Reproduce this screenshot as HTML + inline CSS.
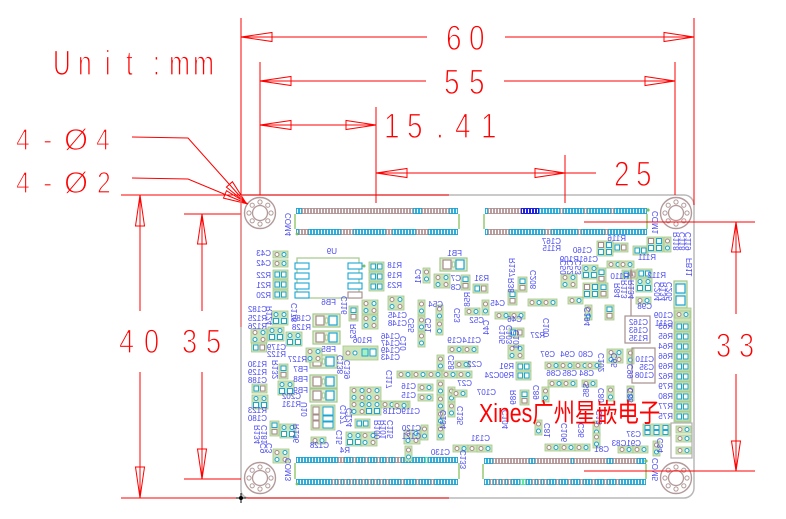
<!DOCTYPE html>
<html><head><meta charset="utf-8"><style>
html,body{margin:0;padding:0;background:#fff;}
svg{display:block;}
</style></head><body>
<svg width="786" height="519" viewBox="0 0 786 519" xmlns="http://www.w3.org/2000/svg" xmlns:xlink="http://www.w3.org/1999/xlink">
<defs>
<g id="r"><rect width="15" height="9" fill="#cfe3b8" stroke="#a3c88a" stroke-width=".8"/><rect x="2" y="2" width="4.5" height="5" fill="#fff" stroke="#1aa5d5"/><rect x="8.5" y="2" width="4.5" height="5" fill="#fff" stroke="#1aa5d5"/></g>
<g id="rb"><rect width="15" height="9" fill="#cfe3b8" stroke="#a3c88a" stroke-width=".8"/><rect x="2" y="2" width="4.5" height="5" fill="#fff" stroke="#1aa5d5"/><rect x="8.5" y="2" width="4.5" height="5" fill="#fff" stroke="#a58a8a"/></g>
<g id="rv"><rect width="9" height="15" fill="#cfe3b8" stroke="#a3c88a" stroke-width=".8"/><rect x="2" y="2" width="5" height="4.5" fill="#fff" stroke="#1aa5d5"/><rect x="2" y="8.5" width="5" height="4.5" fill="#fff" stroke="#a58a8a"/></g>
<g id="c"><rect width="15" height="7" fill="#cfe3b8" stroke="#a3c88a" stroke-width=".8"/><circle cx="4" cy="3.5" r="2" fill="#fff" stroke="#a58a8a"/><circle cx="11" cy="3.5" r="2" fill="#fff" stroke="#1aa5d5"/></g>
<g id="cv"><rect width="7" height="15" fill="#cfe3b8" stroke="#a3c88a" stroke-width=".8"/><circle cx="3.5" cy="4" r="2" fill="#fff" stroke="#a58a8a"/><circle cx="3.5" cy="11" r="2" fill="#fff" stroke="#1aa5d5"/></g>
<g id="qc"><rect width="16" height="14" fill="#cfe3b8" stroke="#a3c88a" stroke-width=".8"/><circle cx="4" cy="3.5" r="2" fill="#fff" stroke="#a58a8a"/><circle cx="12" cy="3.5" r="2" fill="#fff" stroke="#1aa5d5"/><circle cx="4" cy="10.5" r="2" fill="#fff" stroke="#1aa5d5"/><circle cx="12" cy="10.5" r="2" fill="#fff" stroke="#a58a8a"/></g>
<g id="q"><rect width="16" height="14" fill="#cfe3b8" stroke="#a3c88a" stroke-width=".8"/><circle cx="4" cy="3.5" r="2" fill="#fff" stroke="#1aa5d5"/><circle cx="12" cy="3.5" r="2" fill="#fff" stroke="#1aa5d5"/><rect x="1.5" y="7.5" width="5" height="5" fill="#fff" stroke="#1aa5d5"/><rect x="9.5" y="7.5" width="5" height="5" fill="#fff" stroke="#1aa5d5"/></g>
<g id="qs"><rect width="16" height="15" fill="#cfe3b8" stroke="#a3c88a" stroke-width=".8"/><rect x="1.5" y="1.5" width="5" height="5" fill="#fff" stroke="#a58a8a"/><rect x="9.5" y="1.5" width="5" height="5" fill="#fff" stroke="#1aa5d5"/><rect x="1.5" y="8.5" width="5" height="5" fill="#fff" stroke="#1aa5d5"/><rect x="9.5" y="8.5" width="5" height="5" fill="#fff" stroke="#1aa5d5"/></g>
<g id="fb"><rect width="27" height="13" fill="#e3eed6" stroke="#a3c88a" stroke-width="1.2"/><rect x="3" y="2" width="8" height="9" fill="#fff" stroke="#a58a8a" stroke-width="1.2"/><rect x="16" y="2" width="8" height="9" fill="#fff" stroke="#1aa5d5" stroke-width="1.2"/><rect x="12.3" y="4" width="2.4" height="5" fill="#fff" stroke="#a3c88a"/></g>
<g id="hole"><circle r="15.5" fill="#fff" stroke="#b39a9a" stroke-width="1.4"/><circle r="7.5" fill="none" stroke="#b39a9a" stroke-width="1.3"/>
<circle cx="11" cy="0" r="2.1" fill="none" stroke="#b39a9a"/><circle cx="7.8" cy="7.8" r="2.1" fill="none" stroke="#b39a9a"/><circle cx="0" cy="11" r="2.1" fill="none" stroke="#b39a9a"/><circle cx="-7.8" cy="7.8" r="2.1" fill="none" stroke="#b39a9a"/><circle cx="-11" cy="0" r="2.1" fill="none" stroke="#b39a9a"/><circle cx="-7.8" cy="-7.8" r="2.1" fill="none" stroke="#b39a9a"/><circle cx="0" cy="-11" r="2.1" fill="none" stroke="#b39a9a"/><circle cx="7.8" cy="-7.8" r="2.1" fill="none" stroke="#b39a9a"/></g>
<pattern id="pc" patternUnits="userSpaceOnUse" width="3" height="6"><rect x="0.45" y="0.45" width="2.1" height="5.1" fill="#fff" stroke="#1aa5d5" stroke-width="0.9"/></pattern>
<pattern id="pb" patternUnits="userSpaceOnUse" width="3" height="6"><rect x="0.45" y="0.45" width="2.1" height="5.1" fill="#fff" stroke="#b09494" stroke-width="0.9"/></pattern>
<pattern id="pd" patternUnits="userSpaceOnUse" width="3" height="6"><rect x="0.45" y="0.45" width="2.1" height="5.1" fill="#fff" stroke="#2020e0" stroke-width="1.1"/></pattern>
<pattern id="pg" patternUnits="userSpaceOnUse" width="3" height="6"><rect x="0.45" y="0.45" width="2.1" height="5.1" fill="#fff" stroke="#50e0a0" stroke-width="0.9"/></pattern>
</defs>

<rect width="786" height="519" fill="#fff"/>

<!-- board outline -->
<path d="M241,195 H684 A10,10 0 0 1 694,205 V488 A10,10 0 0 1 684,498 H249 A8,8 0 0 1 241,490 Z" fill="#fff" stroke="#b8b8b8" stroke-width="1.5"/>

<!-- holes -->
<use xlink:href="#hole" x="260" y="213"/>
<use xlink:href="#hole" x="676" y="213"/>
<use xlink:href="#hole" x="260" y="478"/>
<use xlink:href="#hole" x="676" y="478"/>

<!-- connectors -->
<g transform="translate(296,208)"><rect width="162" height="6" fill="url(#pb)"/><rect width="6" height="6" fill="url(#pc)"/><rect x="117" width="9" height="6" fill="url(#pc)"/><rect x="153" width="9" height="6" fill="url(#pc)"/></g>
<g transform="translate(296,229)"><rect width="162" height="6" fill="url(#pc)"/><rect x="3" width="9" height="6" fill="url(#pb)"/><rect x="45" width="12" height="6" fill="url(#pb)"/><rect x="90" width="6" height="6" fill="url(#pb)"/><rect x="120" width="12" height="6" fill="url(#pb)"/></g>
<g transform="translate(485,208)"><rect width="162" height="6" fill="url(#pc)"/><rect x="3" width="33" height="6" fill="url(#pb)"/><rect x="36" width="18" height="6" fill="url(#pd)"/><rect x="75" width="3" height="6" fill="url(#pb)"/><rect x="99" width="3" height="6" fill="url(#pb)"/><rect x="126" width="3" height="6" fill="url(#pb)"/></g>
<g transform="translate(485,229)"><rect width="162" height="6" fill="url(#pc)"/><rect x="3" width="21" height="6" fill="url(#pb)"/><rect x="60" width="6" height="6" fill="url(#pb)"/><rect x="93" width="3" height="6" fill="url(#pb)"/><rect x="120" width="3" height="6" fill="url(#pb)"/></g>
<g transform="translate(296,457)"><rect width="162" height="6" fill="url(#pc)"/><rect x="42" width="6" height="6" fill="url(#pb)"/><rect x="57" width="3" height="6" fill="url(#pb)"/><rect x="69" width="3" height="6" fill="url(#pb)"/><rect x="81" width="3" height="6" fill="url(#pb)"/><rect x="90" width="3" height="6" fill="url(#pb)"/><rect x="99" width="6" height="6" fill="url(#pb)"/><rect x="129" width="3" height="6" fill="url(#pg)"/></g>
<g transform="translate(296,479)"><rect width="162" height="6" fill="url(#pc)"/><rect x="36" width="3" height="6" fill="url(#pb)"/><rect x="42" width="3" height="6" fill="url(#pb)"/><rect x="48" width="3" height="6" fill="url(#pb)"/><rect x="54" width="3" height="6" fill="url(#pb)"/><rect x="60" width="3" height="6" fill="url(#pb)"/><rect x="66" width="3" height="6" fill="url(#pb)"/><rect x="72" width="3" height="6" fill="url(#pb)"/><rect x="78" width="3" height="6" fill="url(#pb)"/><rect x="84" width="3" height="6" fill="url(#pb)"/><rect x="90" width="3" height="6" fill="url(#pb)"/><rect x="105" width="3" height="6" fill="url(#pb)"/><rect x="120" width="3" height="6" fill="url(#pb)"/><rect x="135" width="3" height="6" fill="url(#pb)"/></g>
<g transform="translate(484,458)"><rect width="162" height="6" fill="url(#pb)"/><rect width="9" height="6" fill="url(#pc)"/><rect x="45" width="6" height="6" fill="url(#pc)"/><rect x="87" width="3" height="6" fill="url(#pc)"/><rect x="123" width="6" height="6" fill="url(#pc)"/><rect x="153" width="9" height="6" fill="url(#pc)"/></g>
<g transform="translate(484,479)"><rect width="162" height="6" fill="url(#pc)"/><rect x="6" width="3" height="6" fill="url(#pb)"/><rect x="12" width="3" height="6" fill="url(#pb)"/><rect x="18" width="3" height="6" fill="url(#pb)"/><rect x="24" width="3" height="6" fill="url(#pb)"/><rect x="36" width="6" height="6" fill="url(#pg)"/><rect x="48" width="3" height="6" fill="url(#pb)"/><rect x="54" width="3" height="6" fill="url(#pb)"/><rect x="60" width="3" height="6" fill="url(#pb)"/><rect x="72" width="3" height="6" fill="url(#pb)"/><rect x="84" width="3" height="6" fill="url(#pb)"/><rect x="96" width="3" height="6" fill="url(#pb)"/><rect x="108" width="3" height="6" fill="url(#pb)"/><rect x="120" width="3" height="6" fill="url(#pb)"/><rect x="132" width="3" height="6" fill="url(#pb)"/></g>
<g stroke="#9ccf7a" stroke-width="1.6">
<path d="M295,214 V229 M459,214 V229 M484,214 V229 M647,214 V229 M295,463 V479 M459,463 V479 M483,464 V479 M646,464 V479"/>
</g>
<g fill="#7cc060"><circle cx="648" cy="210" r="1.6"/><circle cx="297" cy="234" r="1.4"/><circle cx="297" cy="484" r="1.4"/><circle cx="646" cy="461" r="1.6"/><circle cx="364" cy="266" r="1.5"/></g>

<!-- U9 -->
<rect x="297" y="258" width="62" height="40" fill="none" stroke="#a3c88a" stroke-width="1.2"/>
<g fill="#fff" stroke="#1aa5d5" stroke-width="1.1">
<rect x="295" y="263" width="14" height="6"/><rect x="295" y="273" width="14" height="6"/><rect x="295" y="283" width="14" height="6"/><rect x="295" y="292" width="14" height="6"/>
<rect x="348" y="263" width="14" height="6"/><rect x="348" y="273" width="14" height="6"/><rect x="348" y="283" width="14" height="6"/><rect x="348" y="292" width="14" height="6" stroke="#a58a8a"/>
</g>

<!-- U10 -->
<rect x="311" y="405" width="24" height="25" fill="#cfe3b8" stroke="#a3c88a" stroke-width=".8"/>
<g fill="#fff" stroke-width="1"><rect x="313" y="407" width="6" height="7" stroke="#a58a8a"/><rect x="313" y="415" width="6" height="5" stroke="#a58a8a"/><rect x="313" y="421" width="6" height="7" stroke="#a58a8a"/><rect x="323" y="407" width="10" height="8" stroke="#1aa5d5"/><rect x="323" y="416" width="10" height="5" stroke="#1aa5d5"/><rect x="323" y="422" width="10" height="6" stroke="#1aa5d5"/></g>

<!-- components -->
<use xlink:href="#c" x="273" y="251"/><use xlink:href="#c" x="273" y="260"/>
<use xlink:href="#r" x="273" y="270"/><use xlink:href="#r" x="273" y="280"/><use xlink:href="#r" x="273" y="290"/>
<use xlink:href="#q" x="272" y="311"/>
<use xlink:href="#qc" x="251" y="329"/><use xlink:href="#rb" x="251.5" y="343"/>
<use xlink:href="#q" x="268" y="327"/>
<use xlink:href="#q" x="286" y="332"/>
<use xlink:href="#rv" x="279" y="364"/>
<use xlink:href="#q" x="278" y="381"/>
<use xlink:href="#rb" x="252" y="384"/>
<use xlink:href="#q" x="252" y="395"/>
<use xlink:href="#rv" x="270" y="421"/>
<use xlink:href="#q" x="280" y="424"/>
<use xlink:href="#qc" x="273" y="449"/>

<use xlink:href="#r" x="369" y="262"/><use xlink:href="#r" x="369" y="272"/><use xlink:href="#r" x="369" y="282"/>
<use xlink:href="#cv" x="423" y="268"/>
<use xlink:href="#qc" x="434" y="274"/>
<use xlink:href="#rv" x="461" y="275"/>
<use xlink:href="#fb" x="440" y="258"/>
<use xlink:href="#rb" x="473" y="284"/>
<use xlink:href="#fb" x="313" y="314"/><use xlink:href="#fb" x="313" y="331"/>
<use xlink:href="#rv" x="349" y="306"/>
<use xlink:href="#qc" x="362" y="300"/><use xlink:href="#qc" x="362" y="315"/>
<use xlink:href="#qc" x="388" y="296"/>
<use xlink:href="#cv" x="418" y="300"/><use xlink:href="#cv" x="418" y="316"/><use xlink:href="#cv" x="418" y="332"/>
<use xlink:href="#cv" x="436" y="305"/><use xlink:href="#cv" x="436" y="320"/>
<use xlink:href="#c" x="465" y="308"/>
<use xlink:href="#cv" x="482" y="300"/>
<use xlink:href="#c" x="495" y="312"/><use xlink:href="#c" x="510" y="312"/>
<use xlink:href="#rb" x="509" y="328"/>
<use xlink:href="#qc" x="508" y="345"/>
<use xlink:href="#r" x="516" y="362"/><use xlink:href="#r" x="516" y="371"/>
<use xlink:href="#fb" x="310" y="355"/><use xlink:href="#fb" x="310" y="375"/><use xlink:href="#fb" x="310" y="389"/>
<use xlink:href="#qc" x="306" y="348"/>

<rect x="343" y="346" width="35" height="14" fill="#cfe3b8" stroke="#a3c88a" stroke-width=".8"/>
<circle cx="348" cy="353" r="2" fill="#fff" stroke="#a58a8a"/><circle cx="355" cy="353" r="2" fill="#fff" stroke="#1aa5d5"/><rect x="362" y="349" width="6" height="7" fill="#a8f0c0" stroke="#1aa5d5"/><rect x="370" y="349" width="6" height="7" fill="#fff" stroke="#1aa5d5"/>

<use xlink:href="#qc" x="350" y="387"/><use xlink:href="#qc" x="365" y="387"/><use xlink:href="#qc" x="350" y="401"/><use xlink:href="#q" x="365" y="401"/>
<use xlink:href="#c" x="381" y="401"/><use xlink:href="#c" x="395" y="401"/>
<use xlink:href="#r" x="355" y="419"/>
<use xlink:href="#q" x="346" y="432"/><use xlink:href="#qc" x="361" y="432"/>
<use xlink:href="#c" x="311" y="437"/>

<use xlink:href="#c" x="397" y="371"/><use xlink:href="#c" x="412" y="371"/><use xlink:href="#c" x="427" y="371"/><use xlink:href="#c" x="442" y="371"/><use xlink:href="#c" x="457" y="371"/>
<use xlink:href="#c" x="455" y="361"/>
<use xlink:href="#c" x="448" y="346"/><use xlink:href="#c" x="463" y="346"/>
<use xlink:href="#cv" x="437" y="355"/><use xlink:href="#cv" x="437" y="380"/><use xlink:href="#cv" x="437" y="395"/><use xlink:href="#cv" x="437" y="410"/><use xlink:href="#cv" x="437" y="425"/>
<use xlink:href="#cv" x="448" y="387"/><use xlink:href="#cv" x="448" y="402"/>
<use xlink:href="#c" x="452" y="390"/>
<use xlink:href="#c" x="418" y="384"/><use xlink:href="#c" x="418" y="394"/>
<use xlink:href="#c" x="393" y="402"/>
<use xlink:href="#qc" x="404" y="430"/><use xlink:href="#cv" x="421" y="425"/>
<use xlink:href="#c" x="453" y="445"/><use xlink:href="#c" x="468" y="445"/><use xlink:href="#c" x="477" y="445"/>
<use xlink:href="#cv" x="405" y="446"/>

<use xlink:href="#c" x="545" y="362"/><use xlink:href="#c" x="559" y="362"/><use xlink:href="#c" x="574" y="362"/><use xlink:href="#c" x="586" y="362"/>
<use xlink:href="#c" x="548" y="380"/><use xlink:href="#c" x="562" y="380"/><use xlink:href="#c" x="582" y="380"/>
<use xlink:href="#qc" x="607" y="349"/>
<use xlink:href="#cv" x="627" y="349"/>
<use xlink:href="#cv" x="607" y="386"/><use xlink:href="#cv" x="627" y="386"/>
<use xlink:href="#cv" x="542" y="387"/>
<use xlink:href="#rv" x="520" y="390"/>
<use xlink:href="#c" x="545" y="444"/><use xlink:href="#c" x="560" y="444"/><use xlink:href="#c" x="575" y="444"/>
<use xlink:href="#cv" x="593" y="421"/><use xlink:href="#cv" x="593" y="433"/>
<use xlink:href="#cv" x="535" y="420"/>

<use xlink:href="#rv" x="518" y="277"/>
<use xlink:href="#rv" x="508" y="290"/>
<use xlink:href="#c" x="528" y="299"/><use xlink:href="#c" x="542" y="299"/>
<use xlink:href="#c" x="568" y="297"/>
<use xlink:href="#qc" x="561" y="274"/>
<use xlink:href="#q" x="582" y="265"/>
<use xlink:href="#rv" x="597" y="268"/>
<use xlink:href="#c" x="607" y="261"/><use xlink:href="#c" x="619" y="261"/>
<use xlink:href="#rb" x="613" y="243"/>
<use xlink:href="#qs" x="597" y="241"/>
<use xlink:href="#r" x="633" y="246"/>
<use xlink:href="#qs" x="647" y="237"/><use xlink:href="#cv" x="664" y="237"/>
<use xlink:href="#r" x="637" y="269"/>
<use xlink:href="#q" x="636" y="278"/>
<use xlink:href="#rb" x="622" y="270"/>
<use xlink:href="#qs" x="583" y="283"/><use xlink:href="#rv" x="599" y="283"/>
<use xlink:href="#rv" x="605" y="305"/><use xlink:href="#cv" x="585" y="305"/>
<use xlink:href="#c" x="636" y="297"/>

<rect x="674" y="281" width="13" height="27" fill="#e3eed6" stroke="#a3c88a" stroke-width="1.2"/>
<rect x="676" y="284" width="9" height="9" fill="#fff" stroke="#1aa5d5" stroke-width="1.2"/><rect x="676" y="296" width="9" height="9" fill="#fff" stroke="#1aa5d5" stroke-width="1.2"/>

<rect x="674" y="308" width="17" height="114" fill="#cfe3b8" stroke="#a3c88a" stroke-width=".8"/>
<use xlink:href="#c" x="675" y="311"/>
<use xlink:href="#r" x="675" y="322"/><use xlink:href="#r" x="675" y="332"/><use xlink:href="#r" x="675" y="342"/><use xlink:href="#r" x="675" y="352"/><use xlink:href="#r" x="675" y="362"/><use xlink:href="#r" x="675" y="372"/><use xlink:href="#r" x="675" y="382"/><use xlink:href="#r" x="675" y="392"/><use xlink:href="#r" x="675" y="402"/><use xlink:href="#r" x="675" y="412"/>

<rect x="625" y="316" width="25" height="27" fill="none" stroke="#a89090" stroke-width="1.2"/>
<path d="M631,316 V274" stroke="#a89090" stroke-width="1.2"/><polygon points="631,268 628.5,276 633.5,276" fill="#a89090"/>
<rect x="632" y="348" width="23" height="35" fill="none" stroke="#a89090" stroke-width="1.2"/>
<rect x="671" y="423" width="21" height="35" fill="none" stroke="#b0b0b0" stroke-width="1.2"/>
<use xlink:href="#c" x="676" y="426"/><use xlink:href="#c" x="676" y="435"/><use xlink:href="#c" x="676" y="447"/>
<rect x="643" y="424" width="27" height="12" fill="#cfe3b8" stroke="#a3c88a" stroke-width=".8"/>
<g fill="#fff" stroke="#1aa5d5"><rect x="645" y="425.5" width="5" height="4"/><rect x="654" y="425.5" width="5" height="4"/><rect x="663" y="425.5" width="5" height="4"/><rect x="645" y="430.5" width="5" height="4"/><rect x="654" y="430.5" width="5" height="4"/><rect x="663" y="430.5" width="5" height="4"/></g>
<use xlink:href="#c" x="618" y="446"/><use xlink:href="#c" x="633" y="446"/>
<use xlink:href="#cv" x="653" y="441"/>

<!-- blue labels -->
<g font-family="Liberation Sans, sans-serif" font-size="8" fill="#4a4af0">
<text transform="matrix(-1 0 0 1 271 256)">C43</text><text transform="matrix(-1 0 0 1 271 266)">C42</text>
<text transform="matrix(-1 0 0 1 271 278)">R22</text><text transform="matrix(-1 0 0 1 271 288)">R21</text><text transform="matrix(-1 0 0 1 271 298)">R20</text>
<text transform="matrix(-1 0 0 1 267 312)">C182</text><text transform="matrix(-1 0 0 1 267 321)">R125</text><text transform="matrix(-1 0 0 1 267 329)">R126</text>
<text transform="matrix(-1 0 0 1 286 350)">C179</text><text transform="matrix(-1 0 0 1 286 357)">R122</text>
<text transform="matrix(-1 0 0 1 267 367)">R130</text><text transform="matrix(-1 0 0 1 267 375)">R129</text><text transform="matrix(-1 0 0 1 267 383)">C188</text>
<text transform="matrix(-1 0 0 1 267 413)">R123</text><text transform="matrix(-1 0 0 1 267 421)">C180</text>
<text transform="matrix(-1 0 0 1 301 399)">C202</text><text transform="matrix(-1 0 0 1 301 407)">R131</text>
<text transform="matrix(-1 0 0 1 337 254)">U9</text>
<text transform="matrix(-1 0 0 1 402 268)">R18</text><text transform="matrix(-1 0 0 1 402 278)">R19</text><text transform="matrix(-1 0 0 1 402 288)">R23</text>
<text transform="matrix(-1 0 0 1 462 256)">FB1</text><text transform="matrix(-1 0 0 1 461 281)">C7</text><text transform="matrix(-1 0 0 1 461 290)">C8</text><text transform="matrix(-1 0 0 1 489 281)">R31</text>
<text transform="matrix(-1 0 0 1 336 305)">FB6</text><text transform="matrix(-1 0 0 1 311 321)">C185</text><text transform="matrix(-1 0 0 1 311 330)">R128</text><text transform="matrix(-1 0 0 1 336 352)">FB5</text>
<text transform="matrix(-1 0 0 1 372 343)">R106</text>
<text transform="matrix(-1 0 0 1 407 318)">C145</text><text transform="matrix(-1 0 0 1 407 326)">C148</text>
<text transform="matrix(-1 0 0 1 400 339)">C146</text><text transform="matrix(-1 0 0 1 400 346)">C147</text><text transform="matrix(-1 0 0 1 400 353)">C149</text><text transform="matrix(-1 0 0 1 400 360)">C143</text>
<text transform="matrix(-1 0 0 1 307 362)">R127</text><text transform="matrix(-1 0 0 1 308 372)">FB7</text><text transform="matrix(-1 0 0 1 308 382)">FB8</text><text transform="matrix(-1 0 0 1 308 393)">FB9</text>
<text transform="matrix(-1 0 0 1 329 448)">C128</text><text transform="matrix(-1 0 0 1 350 453)">R4</text>
<text transform="matrix(-1 0 0 1 443 307)">C54</text><text transform="matrix(-1 0 0 1 484 323)">C52</text><text transform="matrix(-1 0 0 1 505 306)">C45</text><text transform="matrix(-1 0 0 1 522 322)">C46</text><text transform="matrix(-1 0 0 1 545 338)">R27</text>
<text transform="matrix(-1 0 0 1 462 343)">C19</text><text transform="matrix(-1 0 0 1 481 343)">C114</text><text transform="matrix(-1 0 0 1 482 367)">C22</text><text transform="matrix(-1 0 0 1 472 386)">C27</text><text transform="matrix(-1 0 0 1 496 395)">C107</text>
<text transform="matrix(-1 0 0 1 416 389)">C16</text><text transform="matrix(-1 0 0 1 416 398)">C15</text><text transform="matrix(-1 0 0 1 420 414)">C119C118</text>
<text transform="matrix(-1 0 0 1 421 431)">C120</text><text transform="matrix(-1 0 0 1 421 439)">C121</text><text transform="matrix(-1 0 0 1 450 455)">C130</text><text transform="matrix(-1 0 0 1 490 441)">C131</text>
<text transform="matrix(-1 0 0 1 514 369)">R91</text><text transform="matrix(-1 0 0 1 514 378)">R90C24</text>
<text transform="matrix(-1 0 0 1 555 357)">C97</text><text transform="matrix(-1 0 0 1 575 357)">C94</text><text transform="matrix(-1 0 0 1 593 357)">C80</text>
<text transform="matrix(-1 0 0 1 561 376)">C86</text><text transform="matrix(-1 0 0 1 577 376)">C85</text><text transform="matrix(-1 0 0 1 594 376)">C84</text>
<text transform="matrix(-1 0 0 1 609 452)">C81</text><text transform="matrix(-1 0 0 1 641 437)">C37</text><text transform="matrix(-1 0 0 1 641 446)">C91C83</text>
<text transform="matrix(-1 0 0 1 561 244)">C167</text><text transform="matrix(-1 0 0 1 561 251)">R115</text><text transform="matrix(-1 0 0 1 592 253)">C160</text><text transform="matrix(-1 0 0 1 598 262)">C161R109</text>
<text transform="matrix(-1 0 0 1 626 241)">R116</text><text transform="matrix(-1 0 0 1 656 260)">R111</text><text transform="matrix(-1 0 0 1 666 278)">R112</text><text transform="matrix(-1 0 0 1 629 279)">R110</text>
<text transform="matrix(-1 0 0 1 652 309)">C98</text><text transform="matrix(-1 0 0 1 673 318)">C109</text><text transform="matrix(-1 0 0 1 673 326)">C111</text>
<text transform="matrix(-1 0 0 1 648 325)">C162</text><text transform="matrix(-1 0 0 1 648 333)">C163</text><text transform="matrix(-1 0 0 1 648 341)">R135</text>
<text transform="matrix(-1 0 0 1 654 362)">C110</text><text transform="matrix(-1 0 0 1 654 370)">C35</text><text transform="matrix(-1 0 0 1 654 378)">C108</text>
<text transform="matrix(-1 0 0 1 673 329)">R63</text><text transform="matrix(-1 0 0 1 673 339)">R65</text><text transform="matrix(-1 0 0 1 673 349)">R64</text><text transform="matrix(-1 0 0 1 673 359)">R66</text><text transform="matrix(-1 0 0 1 673 369)">R69</text><text transform="matrix(-1 0 0 1 673 379)">R62</text><text transform="matrix(-1 0 0 1 673 389)">R79</text><text transform="matrix(-1 0 0 1 673 399)">R80</text><text transform="matrix(-1 0 0 1 673 409)">R77</text><text transform="matrix(-1 0 0 1 673 419)">R75</text>

<text transform="matrix(0 1 1 0 291 213)">COM4</text><text transform="matrix(0 1 1 0 291 458)">COM3</text><text transform="matrix(0 1 1 0 658 211)">COM1</text><text transform="matrix(0 1 1 0 658 458)">COM5</text>
<text transform="matrix(0 1 1 0 272 306)">R124</text><text transform="matrix(0 1 1 0 297 303)">C178</text><text transform="matrix(0 1 1 0 278 360)">R132</text>
<text transform="matrix(0 1 1 0 260 425)">R134</text><text transform="matrix(0 1 1 0 267 425)">C181</text><text transform="matrix(0 1 1 0 299 424)">R136</text>
<text transform="matrix(0 1 1 0 266 443)">C9</text><text transform="matrix(0 1 1 0 272 443)">C3</text>
<text transform="matrix(0 1 1 0 347 296)">C116</text><text transform="matrix(0 1 1 0 356 324)">R52</text><text transform="matrix(0 1 1 0 307 402)">U10</text>
<text transform="matrix(0 1 1 0 343 355)">C138</text><text transform="matrix(0 1 1 0 350 360)">C139</text><text transform="matrix(0 1 1 0 346 405)">C127</text><text transform="matrix(0 1 1 0 352 408)">C124</text><text transform="matrix(0 1 1 0 342 430)">C15</text>
<text transform="matrix(0 1 1 0 380 420)">R100</text><text transform="matrix(0 1 1 0 386 420)">R101</text><text transform="matrix(0 1 1 0 393 420)">C115</text>
<text transform="matrix(0 1 1 0 421 269)">C41</text><text transform="matrix(0 1 1 0 470 292)">R58</text>
<text transform="matrix(0 1 1 0 460 308)">C53</text><text transform="matrix(0 1 1 0 489 320)">C44</text><text transform="matrix(0 1 1 0 505 325)">C105</text><text transform="matrix(0 1 1 0 512 325)">C103</text><text transform="matrix(0 1 1 0 519 330)">C101</text>
<text transform="matrix(0 1 1 0 515 258)">R137</text><text transform="matrix(0 1 1 0 514 278)">R38</text><text transform="matrix(0 1 1 0 536 270)">C208</text><text transform="matrix(0 1 1 0 549 318)">C100</text>
<text transform="matrix(0 1 1 0 566 260)">C50</text><text transform="matrix(0 1 1 0 573 260)">C52</text><text transform="matrix(0 1 1 0 581 260)">C53</text>
<text transform="matrix(0 1 1 0 590 307)">C194</text><text transform="matrix(0 1 1 0 627 280)">R113</text><text transform="matrix(0 1 1 0 620 283)">R84</text><text transform="matrix(0 1 1 0 634 280)">R134</text>
<text transform="matrix(0 1 1 0 660 282)">C204</text><text transform="matrix(0 1 1 0 666 282)">R134</text><text transform="matrix(0 1 1 0 672 282)">C205</text><text transform="matrix(0 1 1 0 692 258)">FB11</text>
<text transform="matrix(0 1 1 0 679 232)">R118</text><text transform="matrix(0 1 1 0 685 232)">C118</text><text transform="matrix(0 1 1 0 691 232)">C119</text>
<text transform="matrix(0 1 1 0 604 353)">C102</text><text transform="matrix(0 1 1 0 617 353)">C65</text><text transform="matrix(0 1 1 0 633 364)">C99</text><text transform="matrix(0 1 1 0 604 388)">C80</text><text transform="matrix(0 1 1 0 633 388)">C88</text>
<text transform="matrix(0 1 1 0 539 385)">C89</text><text transform="matrix(0 1 1 0 516 390)">R89</text><text transform="matrix(0 1 1 0 589 383)">S85</text>
<text transform="matrix(0 1 1 0 508 410)">C104</text><text transform="matrix(0 1 1 0 550 423)">C81</text><text transform="matrix(0 1 1 0 567 423)">C106</text><text transform="matrix(0 1 1 0 584 423)">C36</text><text transform="matrix(0 1 1 0 602 410)">C13</text>
<text transform="matrix(0 1 1 0 663 438)">C34</text><text transform="matrix(0 1 1 0 466 450)">C133</text><text transform="matrix(0 1 1 0 463 406)">C135</text><text transform="matrix(0 1 1 0 446 410)">C134</text><text transform="matrix(0 1 1 0 454 355)">C58</text><text transform="matrix(0 1 1 0 392 370)">C117</text><text transform="matrix(0 1 1 0 414 318)">C55</text><text transform="matrix(0 1 1 0 431 318)">C51</text><text transform="matrix(0 1 1 0 406 336)">C10</text>
</g>

<!-- Xines text -->
<text transform="translate(479,422) scale(0.82,1)" font-family="Liberation Sans, Noto Sans CJK SC, sans-serif" font-size="26" fill="#ff0000">Xines广州星嵌电子</text>

<!-- red dimension lines -->
<g stroke="#ff0000" stroke-width="1" fill="none">
<path d="M241,18 V195 M694,18 V205 M260,62 V195 M675,62 V195 M376,107 V203 M565,155 V203"/>
<path d="M241,37 H427 M505,37 H694 M260,81 H426 M504,81 H675 M260,125 H376 M376,173 H596"/>
<path d="M121,195 H449 M121,498 H449"/>
<path d="M140,195 V311 M140,372 V498 M202,214 V311 M202,372 V479 M184,214 H241 M184,479 H241"/>
<path d="M736,222 V314 M736,374 V471 M584,222 H755 M584,471 H755"/>
<polyline points="132,137 188,138 246,203"/>
<polyline points="132,178 188,179 248,204"/>
<polygon points="241,37 272,32.5 272,41.5"/><polygon points="694,37 664,32.5 664,41.5"/>
<polygon points="260,81 291,76.5 291,85.5"/><polygon points="675,81 645,76.5 645,85.5"/>
<polygon points="260,125 291,120.5 291,129.5"/><polygon points="376,125 346,120.5 346,129.5"/>
<polygon points="376,173 407,168.5 407,177.5"/><polygon points="565,173 535,168.5 535,177.5"/>
<polygon points="140,195 135.5,226 144.5,226"/><polygon points="140,498 135.5,467 144.5,467"/>
<polygon points="202,214 197.5,244 206.5,244"/><polygon points="202,479 197.5,449 206.5,449"/>
<polygon points="736,222 731.5,252 740.5,252"/><polygon points="736,471 731.5,441 740.5,441"/>
<polygon points="246,203 226.4,187.1 232.4,181.7"/>
<polygon points="248,204 223.5,198.1 226.5,190.7"/>
</g>
<path d="M241,195 V327" stroke="#f07070" stroke-width="1.2"/>

<!-- crosshair -->
<g stroke="#000" stroke-width="1"><path d="M236,498 H246 M241,493 V503"/></g>
<circle cx="241" cy="498" r="2" fill="#000"/>

<!-- red dimension text (thinned with white stroke over fill) -->
<g font-family="Liberation Sans, sans-serif" fill="#ff0000" stroke="#ffffff" stroke-width="1.2">
<g font-size="35">
<text transform="translate(53,75) scale(0.7,1)">U</text><text transform="translate(78,75) scale(0.7,1)">n</text><text transform="translate(105,75) scale(0.7,1)">i</text><text transform="translate(126,75) scale(0.7,1)">t</text><text transform="translate(153,75) scale(0.7,1)">:</text><text transform="translate(169,75) scale(0.72,1)">m</text><text transform="translate(193,75) scale(0.72,1)">m</text>
<text transform="translate(446,50) scale(0.8,1)">6</text><text transform="translate(469,50) scale(0.8,1)">0</text>
<text transform="translate(444,94) scale(0.8,1)">5</text><text transform="translate(469,94) scale(0.8,1)">5</text>
<text transform="translate(384,138) scale(0.8,1)">1</text><text transform="translate(407,138) scale(0.8,1)">5</text><text transform="translate(436,138) scale(0.8,1)">.</text><text transform="translate(455,138) scale(0.8,1)">4</text><text transform="translate(481,138) scale(0.8,1)">1</text>
<text transform="translate(614,186) scale(0.8,1)">2</text><text transform="translate(636,186) scale(0.8,1)">5</text>
</g>
<g font-size="34">
<text transform="translate(119,353) scale(0.8,1)">4</text><text transform="translate(144,353) scale(0.8,1)">0</text>
<text transform="translate(182,353) scale(0.8,1)">3</text><text transform="translate(206,353) scale(0.8,1)">5</text>
<text transform="translate(716,357) scale(0.8,1)">3</text><text transform="translate(739,357) scale(0.8,1)">3</text>
</g>
<g font-size="31">
<text transform="translate(16,150) scale(0.8,1)">4</text><text transform="translate(43,150) scale(0.9,1)">-</text><text transform="translate(64,150)">Ø</text><text transform="translate(96,150) scale(0.8,1)">4</text>
<text transform="translate(16,193) scale(0.8,1)">4</text><text transform="translate(43,193) scale(0.9,1)">-</text><text transform="translate(64,193)">Ø</text><text transform="translate(97,193) scale(0.8,1)">2</text>
</g>
</g>
</svg>
</body></html>
